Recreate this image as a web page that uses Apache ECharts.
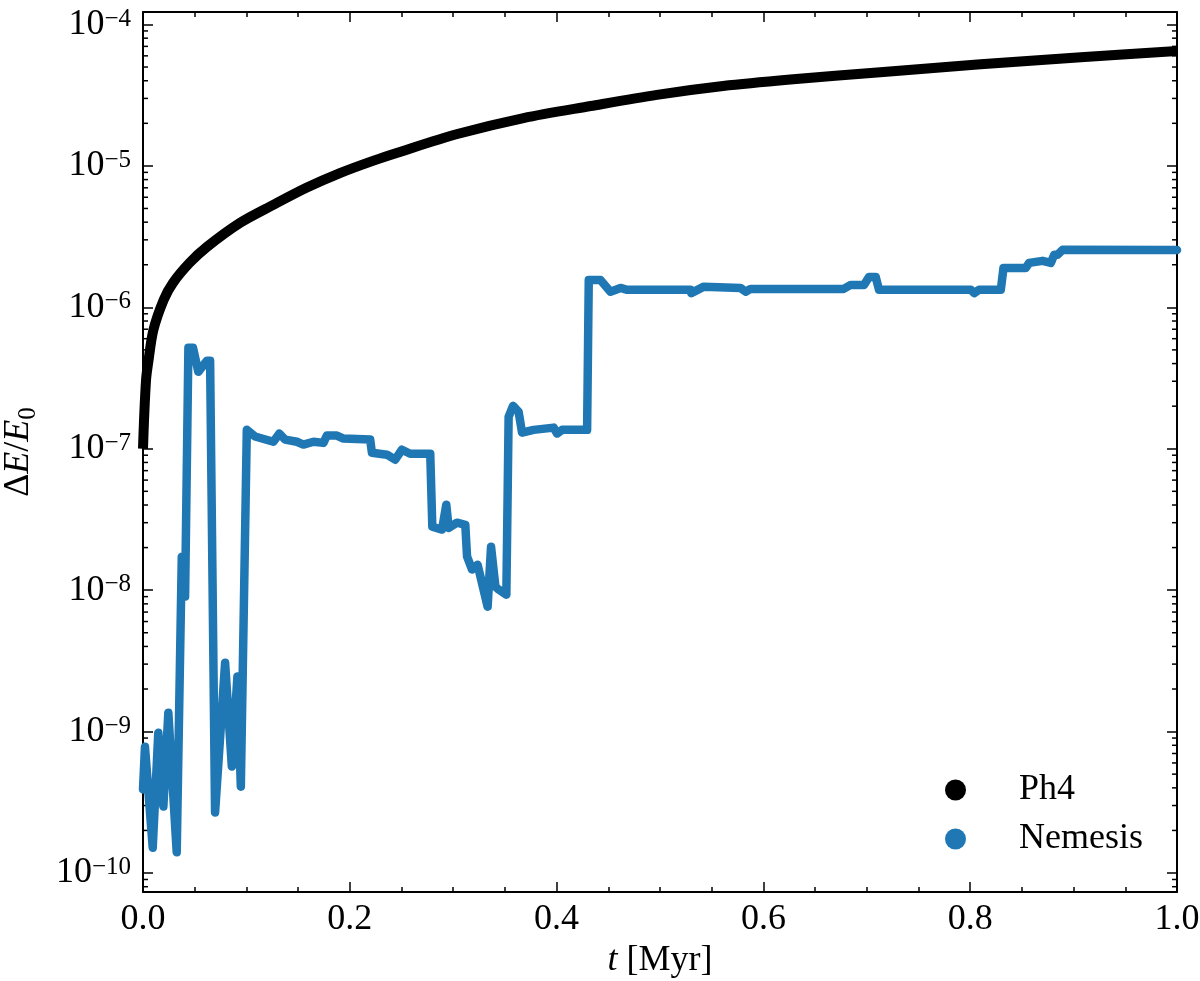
<!DOCTYPE html>
<html>
<head>
<meta charset="utf-8">
<title>Energy error</title>
<script src="https://cdn.jsdelivr.net/npm/echarts@6/dist/echarts.min.js"></script>
<style>
  html, body { margin: 0; padding: 0; background: #fff; }
  #chart { width: 1200px; height: 981px; }
</style>
</head>
<body>
<div id="chart"></div>
<script>
// Ph4 (black)
const ph4Time = [0, 0.001, 0.003, 0.005, 0.010, 0.020, 0.029, 0.045, 0.062, 0.094, 0.126, 0.158,
  0.191, 0.223, 0.246, 0.304, 0.368, 0.433, 0.497, 0.561, 0.626, 0.713, 0.810, 0.907, 1.0];
const ph4Err = [1.0e-7, 1.6e-7, 3.1e-7, 4.05e-7, 6.9e-7, 1.13e-6, 1.49e-6, 2.06e-6, 2.68e-6, 3.96e-6,
  5.3e-6, 7.0e-6, 8.93e-6, 1.09e-5, 1.24e-5, 1.68e-5, 2.18e-5, 2.65e-5, 3.18e-5, 3.67e-5, 4.08e-5,
  4.6e-5, 5.23e-5, 5.86e-5, 6.5e-5];

// Nemesis (blue)
const nemTime = [0, 0.0019, 0.0094, 0.0148, 0.0197, 0.0245, 0.0326, 0.0375, 0.039, 0.0407, 0.0439,
  0.0484, 0.0535, 0.0617, 0.0649, 0.0697, 0.0794, 0.0859, 0.0913, 0.0946, 0.1004, 0.1084, 0.1261,
  0.1319, 0.1375, 0.1488, 0.1551, 0.1649, 0.1745, 0.1778, 0.1875, 0.1939, 0.2197, 0.2214, 0.2359,
  0.2439, 0.2504, 0.2584, 0.2778, 0.2798, 0.2892, 0.2933, 0.2956, 0.3037, 0.3117, 0.3134, 0.3182,
  0.3236, 0.3333, 0.3366, 0.3408, 0.3440, 0.3514, 0.3536, 0.3579, 0.3633, 0.3666, 0.3778, 0.3972,
  0.4005, 0.4053, 0.4295, 0.4311, 0.4424, 0.4521, 0.4618, 0.4683, 0.5295, 0.5302, 0.5424, 0.5779,
  0.5828, 0.5876, 0.6776, 0.6844, 0.6973, 0.7021, 0.7086, 0.7118, 0.8006, 0.8038, 0.8086, 0.8296,
  0.8322, 0.8538, 0.8570, 0.8700, 0.8780, 0.8812, 0.8845, 0.8894, 1.0];
const nemErr = [3.9e-10, 7.8e-10, 1.51e-10, 9.8e-10, 2.95e-10, 1.36e-9, 1.40e-10, 1.72e-8, 1.40e-8,
  9.0e-9, 5.17e-7, 5.17e-7, 3.50e-7, 4.19e-7, 4.19e-7, 2.68e-10, 3.07e-9, 5.66e-10, 2.45e-9, 4.08e-10,
  1.36e-7, 1.22e-7, 1.12e-7, 1.28e-7, 1.16e-7, 1.12e-7, 1.07e-7, 1.12e-7, 1.10e-7, 1.24e-7, 1.24e-7,
  1.18e-7, 1.16e-7, 9.37e-8, 9.07e-8, 8.36e-8, 9.84e-8, 9.22e-8, 9.22e-8, 2.81e-8, 2.68e-8, 4.02e-8,
  2.75e-8, 3.0e-8, 2.90e-8, 1.73e-8, 1.40e-8, 1.51e-8, 7.64e-9, 2.03e-8, 1.06e-8, 1.01e-8, 9.29e-9,
  1.68e-7, 2.01e-7, 1.82e-7, 1.30e-7, 1.36e-7, 1.41e-7, 1.28e-7, 1.36e-7, 1.36e-7, 1.56e-6, 1.56e-6,
  1.29e-6, 1.37e-6, 1.33e-6, 1.33e-6, 1.26e-6, 1.40e-6, 1.37e-6, 1.29e-6, 1.35e-6, 1.35e-6, 1.44e-6,
  1.44e-6, 1.64e-6, 1.64e-6, 1.33e-6, 1.33e-6, 1.26e-6, 1.33e-6, 1.33e-6, 1.90e-6, 1.90e-6, 2.06e-6,
  2.13e-6, 2.06e-6, 2.35e-6, 2.35e-6, 2.55e-6, 2.54e-6];

const yMin = 7.34e-11;
const yMax = 1.225e-4;

const FONT = 'Liberation Serif';

// log minor ticks 2..9 x 10^n, like matplotlib
const minorTickValues = [];
for (let e = -11; e <= -4; e++) {
  for (let k = 2; k <= 9; k++) {
    const v = k * Math.pow(10, e);
    if (v > yMin && v < yMax) minorTickValues.push(v);
  }
}

function zip(xs, ys) {
  return xs.map((x, i) => [x, ys[i]]);
}

function powLabel(value) {
  const e = Math.log10(value);
  const r = Math.round(e);
  if (Math.abs(e - r) > 1e-6) return '';
  return '{b|10}{e|\u2212' + Math.abs(r) + '}';
}

const labelRich = {
  b: { fontSize: 36, fontFamily: FONT, color: '#000', lineHeight: 36, padding: [16, 0, 0, 0], verticalAlign: 'bottom' },
  e: { fontSize: 25, fontFamily: FONT, color: '#000', lineHeight: 25, verticalAlign: 'top' }
};

const tickStyle = { color: '#000', width: 1.5 };

function xAxisBase(pos, showLabel) {
  return {
    type: 'value',
    position: pos,
    min: 0,
    max: 1,
    interval: 0.2,
    axisLine: { show: true, onZero: false, lineStyle: { color: '#000', width: 2 } },
    axisTick: { show: true, inside: true, length: 10, lineStyle: tickStyle },
    minorTick: { show: true, splitNumber: 4, length: 5, lineStyle: tickStyle },
    splitLine: { show: false },
    axisLabel: {
      show: showLabel,
      margin: 10,
      fontSize: 36,
      fontFamily: FONT,
      color: '#000',
      formatter: v => v.toFixed(1)
    }
  };
}

function yAxisBase(pos, showLabel) {
  return {
    type: 'log',
    logBase: 10,
    position: pos,
    min: yMin,
    max: yMax,
    axisLine: { show: true, onZero: false, lineStyle: { color: '#000', width: 2 } },
    axisTick: { show: true, inside: true, length: 10, lineStyle: tickStyle },
    minorTick: { show: false },
    splitLine: { show: false },
    axisLabel: {
      show: showLabel,
      margin: 12,
      formatter: powLabel,
      rich: labelRich
    }
  };
}

const chart = echarts.init(document.getElementById('chart'), null, { renderer: 'canvas' });

const bottomX = xAxisBase('bottom', true);
bottomX.name = '{i|t}{r| [Myr]}';
bottomX.nameLocation = 'middle';
bottomX.nameGap = 50;
bottomX.nameTextStyle = {
  rich: {
    i: { fontSize: 36, fontFamily: FONT, fontStyle: 'italic', color: '#000' },
    r: { fontSize: 36, fontFamily: FONT, color: '#000' }
  }
};

const leftY = yAxisBase('left', true);
leftY.name = '{d|\u0394}{i|E}{d|/}{i|E}{s|0}';
leftY.nameLocation = 'middle';
leftY.nameRotate = 90;
leftY.nameGap = 102;
leftY.nameTextStyle = {
  rich: {
    d: { fontSize: 36, fontFamily: FONT, color: '#000', lineHeight: 40, verticalAlign: 'top' },
    i: { fontSize: 36, fontFamily: FONT, fontStyle: 'italic', color: '#000', lineHeight: 40, verticalAlign: 'top' },
    s: { fontSize: 25, fontFamily: FONT, color: '#000', lineHeight: 25, verticalAlign: 'bottom' }
  }
};

const option = {
  backgroundColor: '#fff',
  animation: false,
  grid: { left: 143, right: 23, top: 12, bottom: 89, containLabel: false, outerBoundsMode: 'none' },
  legend: {
    orient: 'vertical',
    left: 940,
    top: 767,
    icon: 'circle',
    itemWidth: 21,
    itemHeight: 21,
    itemGap: 13,
    data: ['Ph4', 'Nemesis'],
    textStyle: { fontSize: 36, fontFamily: FONT, color: '#000', padding: [0, 0, 0, 48] }
  },
  xAxis: [bottomX, xAxisBase('top', false)],
  yAxis: [leftY, yAxisBase('right', false)],
  series: [
    {
      name: 'minor',
      type: 'custom',
      silent: true,
      clip: false,
      data: minorTickValues.map(v => [0, v]),
      encode: { x: 0, y: 1 },
      renderItem: function (params, api) {
        const v = api.value(1);
        const pl = api.coord([0, v]);
        const pr = api.coord([1, v]);
        return {
          type: 'group',
          children: [
            { type: 'line', shape: { x1: pl[0], y1: pl[1], x2: pl[0] + 5, y2: pl[1] }, style: { stroke: '#000', lineWidth: 1.5 } },
            { type: 'line', shape: { x1: pr[0] - 5, y1: pr[1], x2: pr[0], y2: pr[1] }, style: { stroke: '#000', lineWidth: 1.5 } }
          ]
        };
      }
    },
    {
      name: 'Ph4',
      type: 'line',
      data: zip(ph4Time, ph4Err),
      showSymbol: false,
      smooth: 0.3,
      color: '#000',
      lineStyle: { color: '#000', width: 10, join: 'round', cap: 'butt' },
      z: 3
    },
    {
      name: 'Nemesis',
      type: 'line',
      data: zip(nemTime, nemErr),
      showSymbol: false,
      color: '#1f77b4',
      lineStyle: { color: '#1f77b4', width: 8.5, join: 'round', cap: 'round' },
      z: 4
    }
  ]
};

chart.setOption(option);
</script>
</body>
</html>
